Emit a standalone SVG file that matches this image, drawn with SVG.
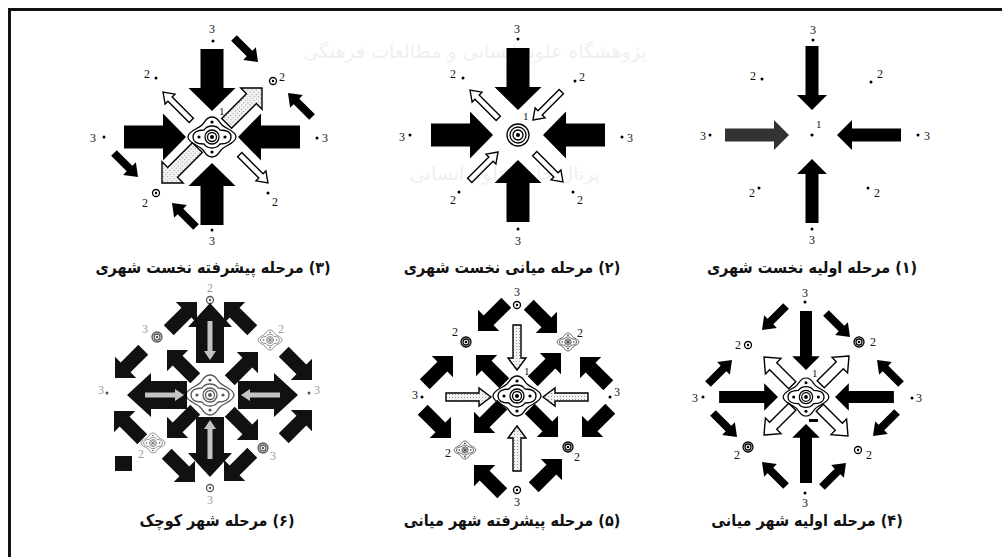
<svg xmlns="http://www.w3.org/2000/svg" xmlns:xlink="http://www.w3.org/1999/xlink" width="1002" height="557" viewBox="0 0 1002 557">
<style>
.lbl{font-family:"Liberation Serif",serif;font-size:12px;fill:#111;text-anchor:middle}
.one{font-family:"Liberation Serif",serif;font-size:11px;fill:#111}
.cap{font-family:"DejaVu Sans Condensed","DejaVu Sans",sans-serif;font-size:16px;font-weight:bold;fill:#111;text-anchor:middle}
.wm{font-family:"DejaVu Sans",sans-serif;font-size:19px;fill:#efefef;text-anchor:middle}
.blk{fill:#000}
.wht{fill:#fff;stroke:#000;stroke-width:1.4;stroke-linejoin:miter}
.stp{fill:url(#stip);stroke:#000;stroke-width:1.4}
.ring{fill:none;stroke:#000;stroke-width:1.3}
.g6 .lbl{fill:#666}
</style>
<defs>
<pattern id="stip" width="3" height="3" patternUnits="userSpaceOnUse"><rect width="3" height="3" fill="#f2f2f2"/><rect width="1" height="1" fill="#999"/></pattern>
<path id="bigA" d="M0,0 L-23,-23.5 L-23,-11.5 L-62,-11.5 L-62,11.5 L-23,11.5 L-23,23.5 Z"/>
<path id="thinA" d="M0,0 L-15,-15 L-15,-6.5 L-64,-6.5 L-64,6.5 L-15,6.5 L-15,15 Z"/>
<path id="whiteS" d="M0,0 L-10,-7 L-10,-3 L-40,-3 L-40,3 L-10,3 L-10,7 Z"/>
<path id="stipA" d="M0,0 L-15,-15 L-15,-7 L-50,-7 L-50,7 L-15,7 L-15,15 Z"/>
<path id="smallB" d="M0,0 L-12,-9 L-12,-4 L-34,-4 L-34,4 L-12,4 L-12,9 Z"/>
<path id="whiteM" d="M0,0 L-13,-11 L-13,-5 L-40,-5 L-40,5 L-13,5 L-13,11 Z"/>
<path id="whiteC" d="M0,0 L-12,-9 L-12,-4 L-45,-4 L-45,4 L-12,4 L-12,9 Z"/>
<path id="thickB" d="M0,0 L-15,-15 L-15,-7 L-40,-7 L-40,7 L-15,7 L-15,15 Z"/>
<g id="bigB">
<path d="M0,0 L-24,-22 L-24,-14 L-60,-14 L-60,14 L-24,14 L-24,22 Z" fill="#111"/>
<path d="M-18,-2.5 L-48,-2.5 L-48,-6 L-57,0 L-48,6 L-48,2.5 L-18,2.5 Z" fill="#c4c4c4"/>
</g>
<g id="city">
<path class="ring" d="M-24,0 C-24,-6 -14,-8 -10,-12 C-6,-16 -6,-20 0,-20 C6,-20 6,-16 10,-12 C14,-8 24,-6 24,0 C24,6 14,8 10,12 C6,16 6,20 0,20 C-6,20 -6,16 -10,12 C-14,8 -24,6 -24,0 Z"/>
<path class="ring" d="M-19,0 C-19,-5 -14,-7 -8,-7 C-6,-10 -4,-11 0,-11 C4,-11 6,-10 8,-7 C14,-7 19,-5 19,0 C19,5 14,7 8,7 C6,10 4,11 0,11 C-4,11 -6,10 -8,7 C-14,7 -19,5 -19,0 Z"/>
<circle class="ring" r="7"/><circle class="ring" r="4.5"/><circle r="2" fill="#000"/>
<circle cx="0" cy="-15" r="1.6" fill="#000"/><circle cx="0" cy="15" r="1.6" fill="#000"/>
<circle cx="-13" cy="0" r="1.6" fill="#000"/><circle cx="13" cy="0" r="1.6" fill="#000"/>
</g>
<g id="dotc"><circle class="ring" r="3.5"/><circle r="1.2" fill="#000"/></g>
<g id="dotcc"><circle class="ring" r="5"/><circle class="ring" r="3"/><circle r="1.3" fill="#000"/></g>
</defs>
<rect width="1002" height="557" fill="#fff"/>
<g id="watermark">
<text class="wm" x="475" y="58" direction="rtl">پژوهشگاه علوم انسانی و مطالعات فرهنگی</text>
<text class="wm" x="505" y="180" direction="rtl">پرتال جامع علوم انسانی</text>
</g>
<g id="frame" stroke="#111" stroke-width="3">
<line x1="8" y1="9.5" x2="1002" y2="9.5"/>
<line x1="9.5" y1="8" x2="9.5" y2="557"/>
</g>

<!-- Panel 1 -->
<g id="panel1">
<g id="p1-arrows" class="blk">
<use href="#thinA" transform="translate(812,110) rotate(90)"/>
<use href="#thinA" transform="translate(812,159) rotate(-90)"/>
<use href="#thinA" transform="translate(789,135)" fill="#333"/>
<use href="#thinA" transform="translate(837,135) rotate(180)"/>
</g>
<g id="p1-places">
<circle cx="812" cy="135" r="1.6"/><text class="one" x="816" y="128" font-size="10">1</text>
<text class="lbl" x="813" y="34">3</text><circle cx="813" cy="40" r="1.5"/>
<text class="lbl" x="753" y="80">2</text><circle cx="762" cy="79" r="1.5"/>
<circle cx="871" cy="82" r="1.5"/><text class="lbl" x="880" y="78">2</text>
<text class="lbl" x="752" y="197">2</text><circle cx="759" cy="188" r="1.5"/>
<circle cx="868" cy="188" r="1.5"/><text class="lbl" x="877" y="197">2</text>
<text class="lbl" x="703" y="140">3</text><circle cx="710" cy="135" r="1.5"/>
<circle cx="918" cy="135" r="1.5"/><text class="lbl" x="927" y="140">3</text>
<circle cx="812" cy="229" r="1.5"/><text class="lbl" x="812" y="244">3</text>
</g>
<text class="cap" x="812" y="273" direction="rtl">(۱) مرحله اولیه نخست شهری</text>
</g>

<!-- Panel 2 -->
<g id="panel2">
<g id="p2-arrows">
<g class="blk">
<use href="#bigA" transform="translate(518,110) rotate(90)"/>
<use href="#bigA" transform="translate(518,160) rotate(-90)"/>
<use href="#bigA" transform="translate(493,135)"/>
<use href="#bigA" transform="translate(543,135) rotate(180)"/>
</g>
<g class="wht">
<use href="#whiteS" transform="translate(470,90) rotate(225)"/>
<use href="#whiteS" transform="translate(533,120) rotate(135)"/>
<use href="#whiteS" transform="translate(498,152) rotate(-45)"/>
<use href="#whiteS" transform="translate(563,182) rotate(45)"/>
</g>
</g>
<g id="p2-places">
<circle class="ring" cx="518" cy="135" r="11"/><circle class="ring" cx="518" cy="135" r="8"/><circle class="ring" cx="518" cy="135" r="5"/><circle cx="518" cy="135" r="2"/>
<text class="one" x="523" y="120">1</text>
<text class="lbl" x="517" y="33">3</text><circle cx="518" cy="39" r="1.5"/>
<text class="lbl" x="453" y="78">2</text><circle cx="463" cy="78" r="1.5"/>
<circle cx="575" cy="81" r="1.5"/><text class="lbl" x="582" y="81">2</text>
<text class="lbl" x="402" y="141">3</text><circle cx="410" cy="135" r="1.5"/>
<circle cx="622" cy="137" r="1.5"/><text class="lbl" x="630" y="142">3</text>
<text class="lbl" x="453" y="204">2</text><circle cx="459" cy="192" r="1.5"/>
<circle cx="573" cy="192" r="1.5"/><text class="lbl" x="580" y="204">2</text>
<circle cx="518" cy="229" r="1.5"/><text class="lbl" x="518" y="245">3</text>
</g>
<text class="cap" x="512" y="273" direction="rtl">(۲) مرحله میانی نخست شهری</text>
</g>

<!-- Panel 3 -->
<g id="panel3">
<g id="p3-arrows">
<g class="blk">
<use href="#bigA" transform="translate(212,111) rotate(90)"/>
<use href="#bigA" transform="translate(212,163) rotate(-90)"/>
<use href="#bigA" transform="translate(186,137)"/>
<use href="#bigA" transform="translate(238,137) rotate(180)"/>
<use href="#smallB" transform="translate(258,62) rotate(45)"/>
<use href="#smallB" transform="translate(288,93) rotate(225)"/>
<use href="#smallB" transform="translate(138,177) rotate(45)"/>
<use href="#smallB" transform="translate(172,203) rotate(225)"/>
</g>
<g class="wht">
<use href="#whiteS" transform="translate(163,92) rotate(225)"/>
<use href="#whiteS" transform="translate(268,183) rotate(45)"/>
</g>
<g class="stp">
<use href="#stipA" transform="translate(262,88) rotate(-45)"/>
<use href="#stipA" transform="translate(162,183) rotate(135)"/>
</g>
</g>
<g id="p3-places">
<use href="#city" transform="translate(212,137)"/>
<text class="one" x="219" y="115">1</text>
<text class="lbl" x="212" y="33">3</text><circle cx="213" cy="41" r="1.5"/>
<text class="lbl" x="147" y="78">2</text><circle cx="156" cy="78" r="1.5"/>
<use href="#dotc" transform="translate(273,81)"/><text class="lbl" x="282" y="81">2</text>
<text class="lbl" x="93" y="142">3</text><circle cx="104" cy="137" r="1.5"/>
<circle cx="317" cy="138" r="1.5"/><text class="lbl" x="325" y="142">3</text>
<text class="lbl" x="145" y="207">2</text><use href="#dotc" transform="translate(156,193)"/>
<circle cx="268" cy="193" r="1.5"/><text class="lbl" x="275" y="206">2</text>
<circle cx="212" cy="230" r="1.5"/><text class="lbl" x="212" y="245">3</text>
</g>
<text class="cap" x="213" y="273" direction="rtl">(۳) مرحله پیشرفته نخست شهری</text>
</g>

<!-- Panel 4 -->
<g id="panel4">
<g id="p4-arrows">
<g class="blk">
<use href="#thinA" transform="translate(806,370) rotate(90) scale(0.92)"/>
<use href="#thinA" transform="translate(806,424) rotate(-90) scale(0.92)"/>
<use href="#thinA" transform="translate(778,397) scale(0.92)"/>
<use href="#thinA" transform="translate(835,397) rotate(180) scale(0.92)"/>
<use href="#smallB" transform="translate(762,330) rotate(135)"/>
<use href="#smallB" transform="translate(850,337) rotate(45)"/>
<use href="#smallB" transform="translate(732,360) rotate(-45)"/>
<use href="#smallB" transform="translate(877,360) rotate(225)"/>
<use href="#smallB" transform="translate(737,437) rotate(45)"/>
<use href="#smallB" transform="translate(873,436) rotate(135)"/>
<use href="#smallB" transform="translate(762,462) rotate(225)"/>
<use href="#smallB" transform="translate(846,463) rotate(-45)"/>
<rect x="809" y="419" width="9" height="3"/>
</g>
<g class="wht">
<use href="#whiteM" transform="translate(764,357) rotate(225)"/>
<use href="#whiteM" transform="translate(849,356) rotate(-45)"/>
<use href="#whiteM" transform="translate(764,435) rotate(135)"/>
<use href="#whiteM" transform="translate(848,436) rotate(45)"/>
</g>
</g>
<g id="p4-places">
<use href="#city" transform="translate(806,397) scale(0.95)"/>
<text class="one" x="812" y="377">1</text>
<text class="lbl" x="805" y="297">3</text><circle cx="805" cy="302" r="1.5"/>
<text class="lbl" x="738" y="349">2</text><use href="#dotc" transform="translate(748,345)"/>
<use href="#dotcc" transform="translate(859,342)"/><text class="lbl" x="873" y="346">2</text>
<text class="lbl" x="695" y="402">3</text><circle cx="703" cy="397" r="1.5"/>
<circle cx="912" cy="398" r="1.5"/><text class="lbl" x="919" y="402">3</text>
<text class="lbl" x="737" y="459">2</text><use href="#dotcc" transform="translate(748,447)"/>
<use href="#dotc" transform="translate(858,450)"/><text class="lbl" x="869" y="459">2</text>
<circle cx="805" cy="493" r="1.5"/><text class="lbl" x="805" y="507">3</text>
</g>
<text class="cap" x="807" y="526" direction="rtl">(۴) مرحله اولیه شهر میانی</text>
</g>

<!-- Panel 5 -->
<g id="panel5">
<g id="p5-arrows">
<g class="stp">
<use href="#whiteC" transform="translate(517,370) rotate(90)"/>
<use href="#whiteC" transform="translate(517,426) rotate(-90)"/>
<use href="#whiteC" transform="translate(491,397)"/>
<use href="#whiteC" transform="translate(543,397) rotate(180)"/>
</g>
<g class="blk">
<use href="#thickB" transform="translate(476,355) rotate(225)"/>
<use href="#thickB" transform="translate(561,353) rotate(-45)"/>
<use href="#thickB" transform="translate(474,433) rotate(135)"/>
<use href="#thickB" transform="translate(558,437) rotate(45)"/>
<use href="#thickB" transform="translate(478,331) rotate(135)"/>
<use href="#thickB" transform="translate(557,333) rotate(45)"/>
<use href="#thickB" transform="translate(453,356) rotate(-45)"/>
<use href="#thickB" transform="translate(580,357) rotate(225)"/>
<use href="#thickB" transform="translate(451,438) rotate(45)"/>
<use href="#thickB" transform="translate(582,437) rotate(135)"/>
<use href="#thickB" transform="translate(474,465) rotate(225)"/>
<use href="#thickB" transform="translate(562,459) rotate(-45)"/>
</g>
</g>
<g id="p5-places">
<use href="#city" transform="translate(517,396)"/>
<text class="one" x="524" y="375">1</text>
<text class="lbl" x="517" y="296">3</text><use href="#dotc" transform="translate(517,305)"/>
<text class="lbl" x="455" y="336">2</text><use href="#dotcc" transform="translate(466,342)"/>
<use href="#city" transform="translate(568,342) scale(0.45)"/><text class="lbl" x="580" y="337">2</text>
<text class="lbl" x="415" y="399">3</text><circle cx="422" cy="397" r="1.5"/>
<circle cx="610" cy="397" r="1.5"/><text class="lbl" x="617" y="396">3</text>
<text class="lbl" x="448" y="457">2</text><use href="#city" transform="translate(465,450) scale(0.45)"/>
<use href="#dotcc" transform="translate(568,447)"/><text class="lbl" x="577" y="461">2</text>
<use href="#dotc" transform="translate(517,490)"/><text class="lbl" x="517" y="506">3</text>
</g>
<text class="cap" x="512" y="526" direction="rtl">(۵) مرحله پیشرفته شهر میانی</text>
</g>

<!-- Panel 6 -->
<g id="panel6" class="g6">
<g id="p6-arrows">
<use href="#bigB" transform="translate(210,303) rotate(-90)"/>
<use href="#bigB" transform="translate(210,477) rotate(90)"/>
<use href="#bigB" transform="translate(127,395) rotate(180)"/>
<use href="#bigB" transform="translate(298,395)"/>
<g fill="#111">
<use href="#thickB" transform="translate(167,350) rotate(225)"/>
<use href="#thickB" transform="translate(258,352) rotate(-45)"/>
<use href="#thickB" transform="translate(167,438) rotate(135)"/>
<use href="#thickB" transform="translate(258,440) rotate(45)"/>
<use href="#thickB" transform="translate(197,302) rotate(-45)"/>
<use href="#thickB" transform="translate(224,302) rotate(225)"/>
<use href="#thickB" transform="translate(115,378) rotate(135)"/>
<use href="#thickB" transform="translate(312,380) rotate(45)"/>
<use href="#thickB" transform="translate(114,411) rotate(225)"/>
<use href="#thickB" transform="translate(312,410) rotate(-45)"/>
<use href="#thickB" transform="translate(195,482) rotate(45)"/>
<use href="#thickB" transform="translate(224,481) rotate(135)"/>
</g>
</g>
<g id="p6-places" opacity="0.65">
<use href="#city" transform="translate(210,395)"/>
<text class="lbl" x="210" y="292">2</text><use href="#dotc" transform="translate(210,300)"/>
<text class="lbl" x="145" y="333">3</text><use href="#dotcc" transform="translate(157,337)"/>
<use href="#city" transform="translate(270,340) scale(0.5)"/><text class="lbl" x="281" y="333">2</text>
<text class="lbl" x="101" y="394">3</text><circle cx="107" cy="393" r="1.5"/>
<circle cx="309" cy="393" r="1.5"/><text class="lbl" x="317" y="394">3</text>
<use href="#city" transform="translate(153,443) scale(0.5)"/><text class="lbl" x="141" y="458">2</text>
<use href="#dotcc" transform="translate(263,448)"/><text class="lbl" x="273" y="460">3</text>
<use href="#dotc" transform="translate(210,488)"/><text class="lbl" x="210" y="504">3</text>
</g>
<rect x="115" y="456" width="17" height="15" fill="#111"/>
<text class="cap" x="217" y="526" direction="rtl">(۶) مرحله شهر کوچک</text>
</g>
</svg>
